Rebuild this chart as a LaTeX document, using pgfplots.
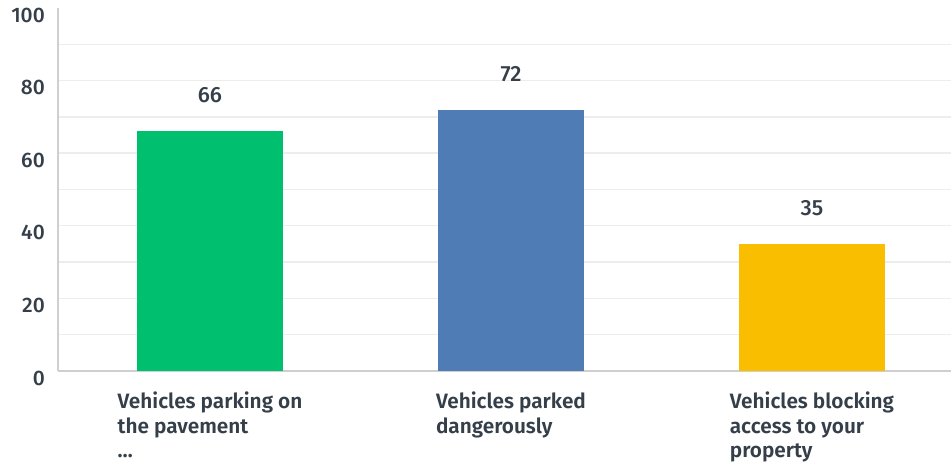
\documentclass[border=0pt]{standalone}
\usepackage{fontspec}
\setmainfont{Fira Sans}
\newfontfamily\medfont{Fira Sans Medium}
\newfontfamily\semifont{Fira Sans SemiBold}
\usepackage{pgfplots}
\pgfplotsset{compat=1.18}
\definecolor{txt}{HTML}{353F4A}
\definecolor{grid}{HTML}{EDEDED}
\definecolor{axl}{HTML}{CFCFCF}
\definecolor{cgreen}{HTML}{00BF6F}
\definecolor{cblue}{HTML}{507CB6}
\definecolor{cyellow}{HTML}{F9BE00}
\begin{document}
\begin{tikzpicture}
\useasboundingbox (-58pt,-97pt) rectangle (893pt,371pt);
\begin{axis}[
  scale only axis,
  width=893pt, height=363pt,
  xmin=-0.505, xmax=2.462,
  ymin=0, ymax=100,
  axis x line*=bottom, axis y line*=left,
  axis line style={-, draw=axl, line width=1.6pt},
  ytick={0,20,40,60,80}, extra y ticks={100},
  extra y tick style={ymajorgrids=false},
  minor ytick={10,30,50,70,90},
  ymajorgrids, yminorgrids,
  major grid style={draw=grid, line width=1.4pt},
  minor grid style={draw=grid, line width=1.4pt},
  major tick length=0pt, minor tick length=0pt,
  /pgf/number format/assume math mode=true,
  yticklabel style={font=\medfont\fontsize{21}{21}\selectfont, text=txt, anchor=east, inner sep=0pt, xshift=-13pt, yshift=-7pt},
  xtick={0,1,2},
  xticklabels={{Vehicles parking on\\the pavement\\…},{Vehicles parked\\dangerously},{Vehicles blocking\\access to your\\property}},
  xticklabel style={font=\semifont\fontsize{20.8}{24.5}\selectfont, text=txt, align=left, anchor=north, inner sep=0pt, yshift=-21pt},
  ybar, bar width=146pt,
  bar shift=0pt,
  nodes near coords,
  nodes near coords style={font=\medfont\fontsize{22}{22}\selectfont, text=txt, anchor=south, inner sep=0pt, yshift=28pt},
  clip=false,
]
\addplot[fill=cgreen, draw=none] coordinates {(0,66)};
\addplot[fill=cblue, draw=none] coordinates {(1,72)};
\addplot[fill=cyellow, draw=none] coordinates {(2,35)};
\end{axis}
\end{tikzpicture}
\end{document}
